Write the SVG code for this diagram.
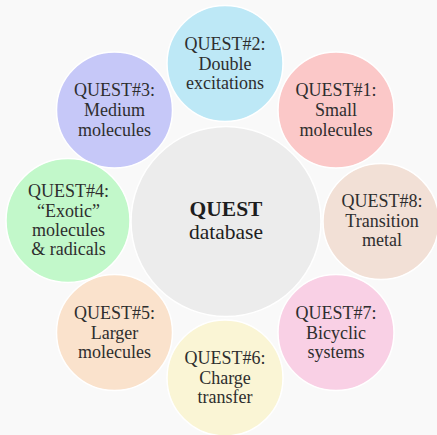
<svg xmlns="http://www.w3.org/2000/svg" width="437" height="435" viewBox="0 0 437 435">
<style>
circle{stroke:#ffffff;stroke-width:1.5}
text{font-family:"Liberation Serif","DejaVu Serif",serif;font-size:18px;fill:#2e2e2e;text-anchor:middle}
.c{font-size:21.5px;fill:#1e1e1e}
.b{font-weight:bold}
</style>
<rect width="437" height="435" fill="#f9f9f9"/>
<g id="connectors"></g>
<g id="center">
<circle cx="226" cy="221.5" r="95" fill="#ececec"/>
<text class="c b" x="226" y="216">QUEST</text>
<text class="c" x="226" y="239">database</text>
</g>
<g id="quest1">
<circle cx="336" cy="110" r="58" fill="#fbc8c8"/>
<text x="336" y="96">QUEST#1:</text>
<text x="336" y="116">Small</text>
<text x="336" y="135.5">molecules</text>
</g>
<g id="quest2">
<circle cx="225" cy="63.5" r="58" fill="#bde8f6"/>
<text x="225" y="50">QUEST#2:</text>
<text x="225" y="70">Double</text>
<text x="225" y="89">excitations</text>
</g>
<g id="quest3">
<circle cx="114.5" cy="110" r="58" fill="#c6c8f8"/>
<text x="114.5" y="96">QUEST#3:</text>
<text x="114.5" y="116">Medium</text>
<text x="114.5" y="135.5">molecules</text>
</g>
<g id="quest4">
<circle cx="68" cy="220.5" r="62" fill="#c2f8ca"/>
<text x="68.5" y="196.7">QUEST#4:</text>
<text x="68.5" y="216.7">“Exotic”</text>
<text x="68.5" y="235.7">molecules</text>
<text x="68.5" y="255">&amp; radicals</text>
</g>
<g id="quest5">
<circle cx="114.5" cy="332.5" r="58" fill="#fae2cc"/>
<text x="114.5" y="318.5">QUEST#5:</text>
<text x="114.5" y="338.5">Larger</text>
<text x="114.5" y="358">molecules</text>
</g>
<g id="quest6">
<circle cx="225" cy="378" r="58" fill="#faf5d5"/>
<text x="225" y="364">QUEST#6:</text>
<text x="225" y="384">Charge</text>
<text x="225" y="403">transfer</text>
</g>
<g id="quest7">
<circle cx="336" cy="332.5" r="58" fill="#f9d0e5"/>
<text x="336" y="318.5">QUEST#7:</text>
<text x="336" y="338.5">Bicyclic</text>
<text x="336" y="358">systems</text>
</g>
<g id="quest8">
<circle cx="381" cy="221.5" r="58" fill="#f2e0d6"/>
<text x="382" y="206.7">QUEST#8:</text>
<text x="382" y="226.7">Transition</text>
<text x="382" y="245.5">metal</text>
</g>
</svg>
